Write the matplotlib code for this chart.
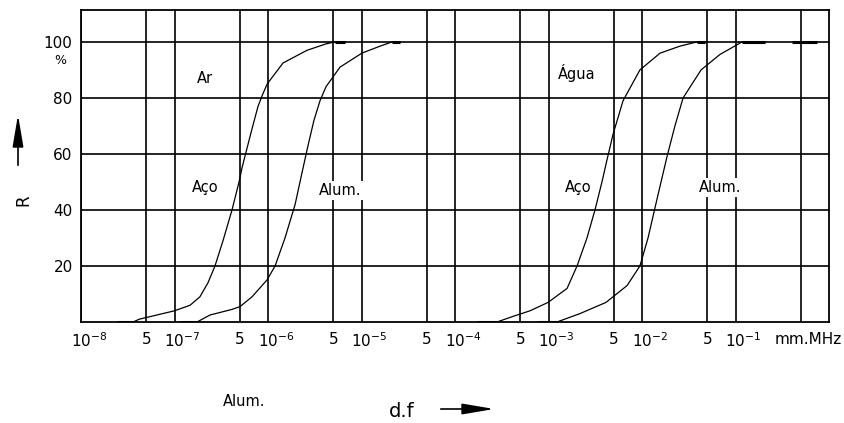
"""Ultrasonic reflection R (%) vs d.f (mm.MHz) for Ar and Água backings."""

import math

import matplotlib
matplotlib.use("Agg")
import matplotlib.pyplot as plt
import matplotlib.ticker as ticker
from matplotlib.patches import FancyArrowPatch
from matplotlib.transforms import ScaledTranslation, blended_transform_factory

# ---------------------------------------------------------------------------
# Data: d.f in mm.MHz, R in %
# ---------------------------------------------------------------------------

ar_aco_df = [2.5e-8, 3.6e-8, 4.2e-8, 1.0e-7, 1.47e-7, 1.87e-7, 2.28e-7, 2.71e-7,
             3.3e-7, 4.12e-7, 4.9e-7, 5.27e-7, 5.96e-7, 6.75e-7, 7.82e-7,
             8.7e-7, 9.8e-7, 1.45e-6, 2.61e-6, 4.17e-6, 5.2e-6, 6.7e-6]
ar_aco_r = [0, 0, 1, 4, 6, 9, 14, 20, 29, 40, 50, 55, 62, 69, 77, 81, 85,
            92.5, 97, 99.3, 100, 100]

ar_alum_df = [1.15e-7, 1.74e-7, 2.4e-7, 4.12e-7, 5.02e-7, 6.75e-7, 9.75e-7,
              1.19e-6, 1.52e-6, 1.95e-6, 2.3e-6, 2.68e-6, 3.1e-6, 3.6e-6,
              4.17e-6, 5.89e-6, 1.01e-5, 1.58e-5, 2.12e-5, 2.58e-5]
ar_alum_r = [0, 0, 2.5, 4.5, 5.5, 9, 15, 20, 30, 42, 53, 63, 72, 79, 84, 91,
             96, 98.5, 100, 100]

agua_aco_df = [1.76e-4, 2.81e-4, 4.17e-4, 6.34e-4, 9.9e-4, 1.58e-3, 2.02e-3,
               2.58e-3, 3.14e-3, 3.73e-3, 4.23e-3, 4.9e-3, 6.27e-3, 9.5e-3,
               1.56e-2, 2.55e-2, 3.87e-2, 4.72e-2]
agua_aco_r = [0, 0, 2, 4, 7, 12, 20, 30, 40, 50, 58, 67, 79, 90, 96, 98.5,
              100, 100]

agua_alum_df = [7.73e-4, 1.23e-3, 2.17e-3, 4.12e-3, 6.92e-3, 9.5e-3, 1.16e-2,
                1.45e-2, 1.85e-2, 2.25e-2, 2.75e-2, 4.28e-2, 6.8e-2, 0.104,
                0.117, 0.207]
agua_alum_r = [0, 0, 3, 7, 13, 20, 30, 44, 59, 70, 80, 90, 95.5, 99, 100, 100]

tail_df = [0.40, 0.74]
tail_r = [100, 100]

decades = [1e-8, 1e-7, 1e-6, 1e-5, 1e-4, 1e-3, 1e-2, 1e-1]
fives = [5e-8, 5e-7, 5e-6, 5e-5, 5e-4, 5e-3, 5e-2, 5e-1]
r_ticks = [20, 40, 60, 80, 100]

# ---------------------------------------------------------------------------
# Figure
# ---------------------------------------------------------------------------

plt.rcParams["font.family"] = "DejaVu Sans"
plt.rcParams["mathtext.default"] = "regular"

fig = plt.figure(figsize=(8.44, 4.23), dpi=100)
ax = fig.add_axes([81 / 844, 101 / 423, 748 / 844, 312 / 423])

curves = [(ar_aco_df, ar_aco_r), (ar_alum_df, ar_alum_r),
          (agua_aco_df, agua_aco_r), (agua_alum_df, agua_alum_r)]
for xs, ys in curves:
    ax.plot(xs, ys, color="black", lw=0.9, zorder=3)
    # flat ends are drawn heavier in the original
    ax.plot(xs[:2], ys[:2], color="black", lw=2.2, solid_capstyle="butt", zorder=3)
    ax.plot(xs[-2:], ys[-2:], color="black", lw=2.2, solid_capstyle="butt", zorder=3)
ax.plot(tail_df, tail_r, color="black", lw=2.2, solid_capstyle="butt", zorder=3)

ax.set_xscale("log")
ax.set_xlim(1e-8, 1)
ax.set_ylim(0, 111.4)

# ── Ticks / grid ─────────────────────────────────────────────────────────
xt = sorted(decades + fives)
xl = []
for v in xt:
    if v in decades:
        xl.append(f"$10^{{{int(round(math.log10(v)))}}}$")
    elif v == 5e-1:
        xl.append("mm.MHz")
    else:
        xl.append("5")
ax.xaxis.set_major_locator(ticker.FixedLocator(xt))
ax.xaxis.set_major_formatter(ticker.FixedFormatter(xl))
ax.xaxis.set_minor_locator(ticker.NullLocator())
ax.set_yticks(r_ticks)
ax.tick_params(axis="both", length=0, labelsize=11, colors="black")
ax.tick_params(axis="x", pad=7)
ax.tick_params(axis="y", pad=6)

for v, lab in zip(xt, ax.get_xticklabels()):
    if v in decades:
        dx = 8
    elif v == 5e-1:
        dx = 7
    else:
        dx = 0
    lab.set_transform(lab.get_transform() + ScaledTranslation(dx / 100, 0, fig.dpi_scale_trans))

ax.grid(True, color="black", lw=1.2, zorder=1)
ax.set_axisbelow(True)
for sp in ax.spines.values():
    sp.set_color("black")
    sp.set_linewidth(1.3)

# ── Curve labels ─────────────────────────────────────────────────────────
box = dict(facecolor="white", edgecolor="none", pad=1.5)
labels = [(2.12e-7, 86.8, "Ar"), (2.12e-7, 47.9, "Aço"), (5.89e-6, 47.1, "Alum."),
          (2.02e-3, 88.9, "Água"), (2.06e-3, 47.9, "Aço"), (6.82e-2, 47.9, "Alum.")]
for lx, ly, txt in labels:
    ax.text(lx, ly, txt, ha="center", va="center", fontsize=10.5, bbox=box, zorder=2)

trans = blended_transform_factory(ax.transAxes, ax.transData)
ax.text(-0.028, 93.5, "%", ha="center", va="center", fontsize=9, transform=trans)

# ── Axis names with arrows ───────────────────────────────────────────────
fig.text(23 / 844, 1 - 200 / 423, "R", rotation=90, ha="center", va="center", fontsize=12)
fig.patches.append(FancyArrowPatch(
    (18 / 844, 1 - 168 / 423), (18 / 844, 1 - 112 / 423),
    transform=fig.transFigure, arrowstyle="-|>,head_length=1.3,head_width=0.22",
    mutation_scale=15, color="black", lw=1.2))

fig.text(244 / 844, 1 - 401 / 423, "Alum.", ha="center", va="center", fontsize=10.5)
fig.text(402 / 844, 1 - 411 / 423, "d.f", ha="center", va="center", fontsize=14)
fig.patches.append(FancyArrowPatch(
    (438 / 844, 1 - 409 / 423), (497 / 844, 1 - 409 / 423),
    transform=fig.transFigure, arrowstyle="-|>,head_length=1.3,head_width=0.22",
    mutation_scale=15, color="black", lw=1.2))

fig.savefig("out.png", dpi=100, facecolor="white")
plt.close(fig)
